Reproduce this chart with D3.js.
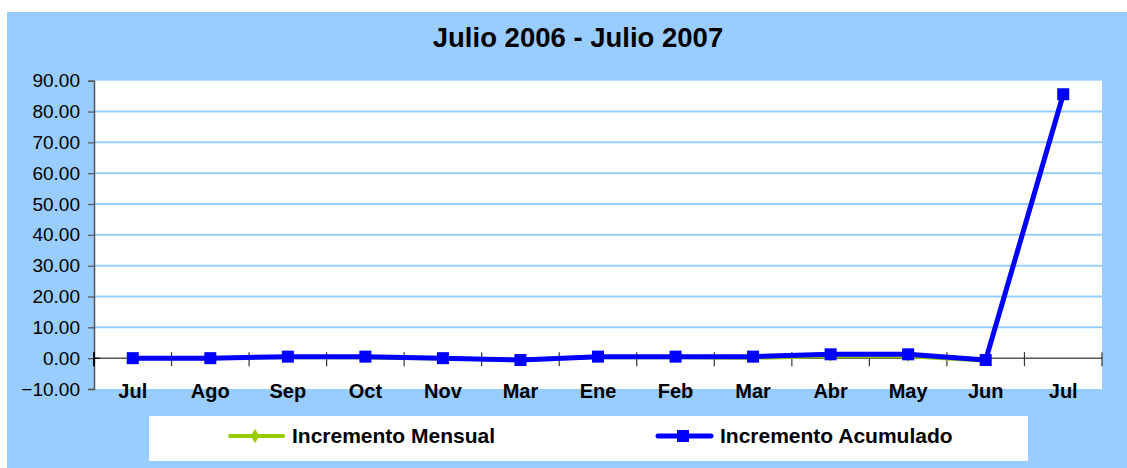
<!DOCTYPE html>
<html><head><meta charset="utf-8">
<script src="https://cdn.jsdelivr.net/npm/d3@7"></script>
<style>body{margin:0;background:#fff;}svg{display:block;font-family:"Liberation Sans",Arial,sans-serif;}</style>
</head><body>
<svg id="chart" width="1127" height="468"></svg>
<script>
const title = "Julio 2006 - Julio 2007";
const categories = ["Jul","Ago","Sep","Oct","Nov","Mar","Ene","Feb","Mar","Abr","May","Jun","Jul"];
const mensual = [0, 0, 0.4, 0.2, -0.1, -0.6, 0.4, 0.3, 0.1, 0.7, 0.6, -0.8, 85.0];
const acumulado = [0, 0, 0.5, 0.5, 0, -0.6, 0.5, 0.5, 0.5, 1.25, 1.25, -0.6, 85.6];
const yTicks = [-10, 0, 10, 20, 30, 40, 50, 60, 70, 80, 90];
const seriesNames = ["Incremento Mensual", "Incremento Acumulado"];

const svg = d3.select("#chart");
const W = 1127, H = 468;
const m = {left: 94, right: 1102, top: 80.7, bottom: 389};

svg.append("rect").attr("x", 7).attr("y", 12).attr("width", W - 7).attr("height", H - 12).attr("fill", "#99CCFF");
svg.append("rect").attr("x", m.left).attr("y", m.top).attr("width", m.right - m.left).attr("height", m.bottom - m.top).attr("fill", "#fff");

svg.append("text").attr("x", 578).attr("y", 47).attr("text-anchor", "middle")
  .attr("font-size", 27.5).attr("font-weight", "bold").attr("fill", "#000").text(title);

const x = d3.scaleBand().domain(d3.range(categories.length)).range([m.left, m.right]).padding(0);
const y = d3.scaleLinear().domain([-10, 90]).range([m.bottom, m.top]);
const cx = i => x(i) + x.bandwidth() / 2;

// gridlines
svg.append("g").selectAll("line").data(yTicks.filter(t => t !== 0 && t !== -10 && t !== 90)).join("line")
  .attr("x1", m.left).attr("x2", m.right).attr("y1", d => y(d)).attr("y2", d => y(d))
  .attr("stroke", "#99CCFF").attr("stroke-width", 2);

// y axis
const yAxis = d3.axisLeft(y).tickValues(yTicks).tickFormat(d3.format(".2f")).tickSize(6).tickPadding(8);
const gy = svg.append("g").attr("transform", `translate(${m.left},0)`).call(yAxis);
gy.select(".domain").attr("stroke", "#555").attr("stroke-width", 1.5);
gy.selectAll(".tick line").attr("stroke", "#555").attr("stroke-width", 1.2);
gy.selectAll("text").attr("font-size", 19).attr("fill", "#000").attr("font-family", "Liberation Sans, Arial, sans-serif");
// cross tick at zero
svg.append("line").attr("x1", m.left).attr("x2", m.left + 6).attr("y1", y(0)).attr("y2", y(0)).attr("stroke", "#000");

// x axis at zero
const y0 = y(0);
svg.append("line").attr("x1", m.left).attr("x2", m.right).attr("y1", y0).attr("y2", y0).attr("stroke", "#000").attr("stroke-width", 1);
const boundaries = d3.range(categories.length + 1).map(i => i < categories.length ? x(i) : m.right);
svg.append("g").selectAll("line").data(boundaries.slice(1)).join("line")
  .attr("x1", d => d).attr("x2", d => d).attr("y1", y0 - 6).attr("y2", y0 + 8)
  .attr("stroke", "#333").attr("stroke-width", 1.2);
svg.append("line").attr("x1", m.left).attr("x2", m.left).attr("y1", y0 - 6).attr("y2", y0 + 8).attr("stroke", "#000").attr("stroke-width", 2);

svg.append("g").selectAll("text").data(categories).join("text")
  .attr("x", (d, i) => cx(i)).attr("y", 398).attr("text-anchor", "middle")
  .attr("font-size", 20).attr("font-weight", "bold").attr("fill", "#000").text(d => d);

// series
const line = d3.line().x((d, i) => cx(i)).y(d => y(d));
svg.append("path").datum(mensual).attr("d", line).attr("fill", "none").attr("stroke", "#99CC00").attr("stroke-width", 4);
svg.append("g").selectAll("path").data(mensual).join("path")
  .attr("d", d3.symbol(d3.symbolDiamond, 40)).attr("transform", (d, i) => `translate(${cx(i)},${y(d)})`).attr("fill", "#99CC00");
svg.append("path").datum(acumulado).attr("d", line).attr("fill", "none").attr("stroke", "#0000FF").attr("stroke-width", 5).attr("stroke-linejoin", "round");
svg.append("g").selectAll("rect").data(acumulado).join("rect")
  .attr("x", (d, i) => cx(i) - 6).attr("y", d => y(d) - 6).attr("width", 12).attr("height", 12).attr("fill", "#0000FF");

// legend
svg.append("rect").attr("x", 149).attr("y", 416).attr("width", 879).attr("height", 45).attr("fill", "#fff");
const legend = [
  {name: seriesNames[0], color: "#99CC00", x0: 230, shape: "diamond"},
  {name: seriesNames[1], color: "#0000FF", x0: 658, shape: "square"}
];
const lg = svg.append("g").selectAll("g").data(legend).join("g");
lg.append("line").attr("x1", d => d.x0).attr("x2", d => d.x0 + 53).attr("y1", 436).attr("y2", 436)
  .attr("stroke", d => d.color).attr("stroke-width", d => d.shape === "square" ? 5 : 4).attr("stroke-linecap", "round");
lg.filter(d => d.shape === "diamond").append("path").attr("d", d3.symbol(d3.symbolDiamond, 60))
  .attr("transform", d => `translate(${d.x0 + 25},436)`).attr("fill", d => d.color);
lg.filter(d => d.shape === "square").append("rect").attr("x", d => d.x0 + 19).attr("y", 430).attr("width", 12).attr("height", 12).attr("fill", d => d.color);
lg.append("text").attr("x", d => d.x0 + 62).attr("y", 443).attr("font-size", 21).attr("font-weight", "bold").attr("fill", "#000").text(d => d.name);
</script>
</body></html>
